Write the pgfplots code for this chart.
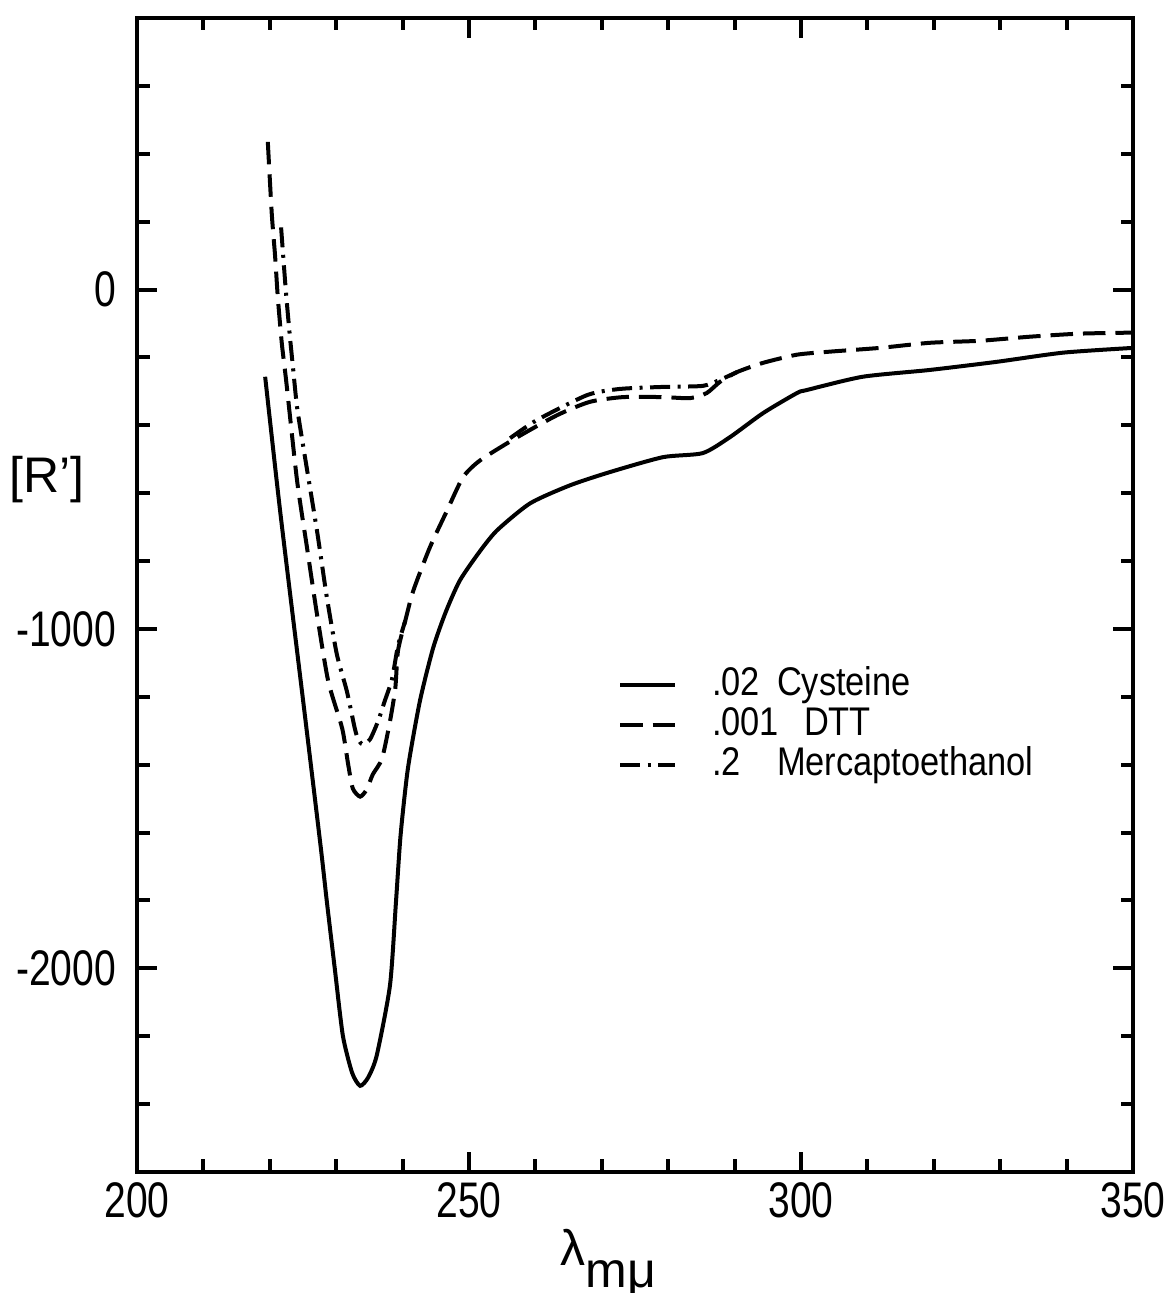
\documentclass[border=0pt]{standalone}
\usepackage{fontspec}
\setmainfont{Liberation Sans}
\newfontfamily\tickfont[FakeStretch=0.78]{Liberation Sans}
\newfontfamily\legfont[FakeStretch=0.86]{Liberation Sans}
\usepackage{pgfplots}
\pgfplotsset{compat=1.18}
\begin{document}
\begin{tikzpicture}
\begin{axis}[
  name=ax,
  scale only axis,
  width=199.2pt, height=230.8pt,
  xmin=200, xmax=350, ymin=-2600, ymax=800,
  xtick={200,250,300,350},
  xticklabels={200,250,300,350},
  minor xtick={210,220,230,240,260,270,280,290,310,320,330,340},
  ytick={-2000,-1000,0},
  yticklabels={-2000,-1000,0},
  minor ytick={-2600,-2400,...,800},
  tick align=inside,
  major tick length=4pt, minor tick length=2.5pt,
  axis line style={line width=0.9pt},
  every tick/.style={black, line width=0.8pt},
  tick label style={font=\tickfont\fontsize{10}{12}\selectfont},
  xticklabel style={yshift=1.5pt},
  yticklabel style={inner sep=0pt, xshift=-4pt},
  xlabel={λ\raisebox{-0.8ex}{mμ}},
  every axis x label/.style={at={(axis description cs:0.473,0)}, anchor=north, yshift=-8pt,
    font=\fontsize{10}{12}\selectfont},
  ylabel={[R']},
  every axis y label/.style={at={(axis description cs:-0.09,0.6)}, anchor=center,
    font=\fontsize{10}{12}\selectfont},
  legend style={draw=none, fill=none, at={(0.482,0.44)}, anchor=north west,
    font=\legfont\fontsize{8}{9}\selectfont, row sep=0pt, inner sep=0pt,
    nodes={inner sep=0pt, text height=6pt, text depth=2pt},
    /tikz/every odd column/.style={column sep=7pt}},
  legend cell align=left,
  legend image code/.code={\draw[#1] (0pt,0pt) -- (11pt,0pt);},
]
% .02 Cysteine
\addplot[black, line width=0.8pt, smooth, tension=0.4] coordinates {
  (219.3,-257) (221.6,-660) (225.3,-1257) (227.7,-1648) (228.6,-1805)
  (229.8,-2003) (231.0,-2198) (232.4,-2308) (233.6,-2346) (234.8,-2322)
  (236.1,-2257) (238.1,-2050) (239.0,-1805) (239.7,-1607) (240.8,-1411)
  (242.6,-1213) (244.6,-1056) (246.5,-950) (248.6,-858) (251.5,-775)
  (254.2,-710) (259.2,-630) (265.2,-577) (271.2,-538) (279.2,-494)
  (285.2,-482) (289.3,-435) (294.3,-364) (299.4,-305) (300.9,-296)
  (309.3,-257) (319.4,-237) (329.5,-213) (339.5,-186) (350,-172)
};
\addlegendentry{\makebox[13pt][l]{.02}Cysteine}
% .001 DTT
\addplot[black, line width=0.8pt, dash pattern=on 4.5pt off 2pt, smooth, tension=0.4] coordinates {
  (219.7,435) (220.3,222) (220.8,98) (221.2,-21) (221.8,-157) (222.5,-275)
  (224.1,-562) (225.6,-760) (227.1,-956) (228.8,-1154) (230.9,-1293)
  (231.8,-1399) (232.5,-1470) (233.6,-1494) (234.6,-1473) (235.5,-1429)
  (236.9,-1382) (238.1,-1272) (238.9,-1175) (239.3,-1065) (240.4,-976)
  (241.6,-888) (244.1,-760) (246.7,-651) (249.1,-553) (251.7,-503)
  (257.2,-436) (263.3,-370) (268.2,-331) (273.2,-317) (279.2,-317)
  (283.3,-320) (285.8,-305) (287.8,-272) (290.4,-243) (294.3,-216)
  (299.4,-192) (304.4,-183) (311.9,-172) (319.4,-157) (327.0,-151)
  (334.5,-139) (342.0,-130) (350,-127)
};
\addlegendentry{\makebox[18.4pt][l]{.001}DTT}
% .2 Mercaptoethanol (runs on the DTT curve where the two meet)
\addplot[black, line width=0.8pt, dash pattern=on 4pt off 1.5pt on 0.6pt off 1.5pt,
  smooth, tension=0.4, unbounded coords=jump] coordinates {
  (221.7,183) (222.4,0) (223.0,-133) (223.5,-231) (224.1,-346) (225.1,-470)
  (227.1,-710) (228.6,-908) (230.1,-1075) (231.6,-1183) (232.8,-1293)
  (233.3,-1325) (234.0,-1340) (235.1,-1325) (236.3,-1272) (237.3,-1213)
  (238.4,-1148) (239.3,-1050) (240.4,-976)
  (248,nan)
  (256.2,-438) (260.2,-385) (267.8,-311) (272.7,-293) (279.2,-287)
  (285.2,-284) (287.8,-266) (290.4,-243)
};
\addlegendentry{\makebox[13pt][l]{.2}Mercaptoethanol}
\end{axis}
\pgfresetboundingbox
\useasboundingbox ([shift={(-27.4pt,-24.2pt)}]ax.south west) rectangle ([shift={(8.4pt,3.6pt)}]ax.north east);
\end{tikzpicture}
\end{document}
